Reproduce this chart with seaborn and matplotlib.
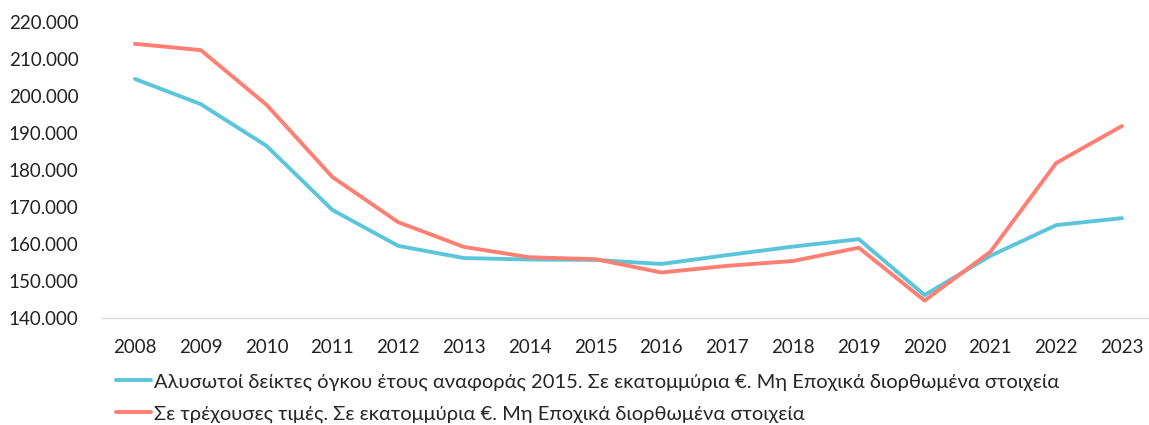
import matplotlib
matplotlib.use("Agg")
import matplotlib.pyplot as plt
import matplotlib.ticker as mticker
import seaborn as sns
import pandas as pd

years = list(range(2008, 2024))
chain_linked = [204.6, 197.8, 186.5, 169.2, 159.5, 156.2, 155.8, 155.7, 154.6,
                157.0, 159.3, 161.3, 146.2, 156.8, 165.1, 167.0]
current_prices = [214.1, 212.4, 197.6, 178.1, 165.9, 159.2, 156.4, 155.9, 152.3,
                  154.1, 155.4, 159.0, 144.7, 157.9, 181.9, 191.9]
label_chain = "Αλυσωτοί δείκτες όγκου έτους αναφοράς 2015. Σε εκατομμύρια €. Μη Εποχικά διορθωμένα στοιχεία"
label_current = "Σε τρέχουσες τιμές. Σε εκατομμύρια €. Μη Εποχικά διορθωμένα στοιχεία"
colors = ["#5BC5DB", "#FF7F73"]

df = pd.concat([
    pd.DataFrame({"year": years, "value": [v * 1000 for v in chain_linked], "series": label_chain}),
    pd.DataFrame({"year": years, "value": [v * 1000 for v in current_prices], "series": label_current}),
])

sns.set_theme(style="white")
plt.rcParams["font.family"] = ["Lato", "DejaVu Sans"]

fig = plt.figure(figsize=(11.49, 4.25), dpi=100)
ax = fig.add_axes([102 / 1149, (425 - 318) / 425, 1047 / 1149, 296 / 425])
sns.lineplot(data=df, x="year", y="value", hue="series", palette=colors,
             linewidth=2.8, ax=ax, legend=True)

ax.set_xlim(2007.4985, 2023.41)
ax.set_ylim(140000, 220000)
ax.set_xticks(years)
ax.set_yticks(range(140000, 220001, 10000))
ax.yaxis.set_major_formatter(mticker.FuncFormatter(lambda v, p: f"{int(v):,}".replace(",", ".")))
ax.tick_params(axis="both", labelsize=13.5, colors="#222222", length=0)
ax.tick_params(axis="x", pad=15)
ax.tick_params(axis="y", pad=17)
ax.set_xlabel("")
ax.set_ylabel("")
for s in ["top", "right", "left"]:
    ax.spines[s].set_visible(False)
ax.spines["bottom"].set_color("#D9D9D9")
ax.spines["bottom"].set_linewidth(1)
ax.grid(False)

handles, labels = ax.get_legend_handles_labels()
ax.get_legend().remove()
fig.legend(handles, labels, loc="upper left", bbox_to_anchor=(116 / 1149, 1 - 373 / 425),
           frameon=False, fontsize=14.5, handlelength=1.75, handletextpad=0.15,
           labelspacing=0.72, borderaxespad=0, borderpad=0)

fig.savefig("out.png", dpi=100)
